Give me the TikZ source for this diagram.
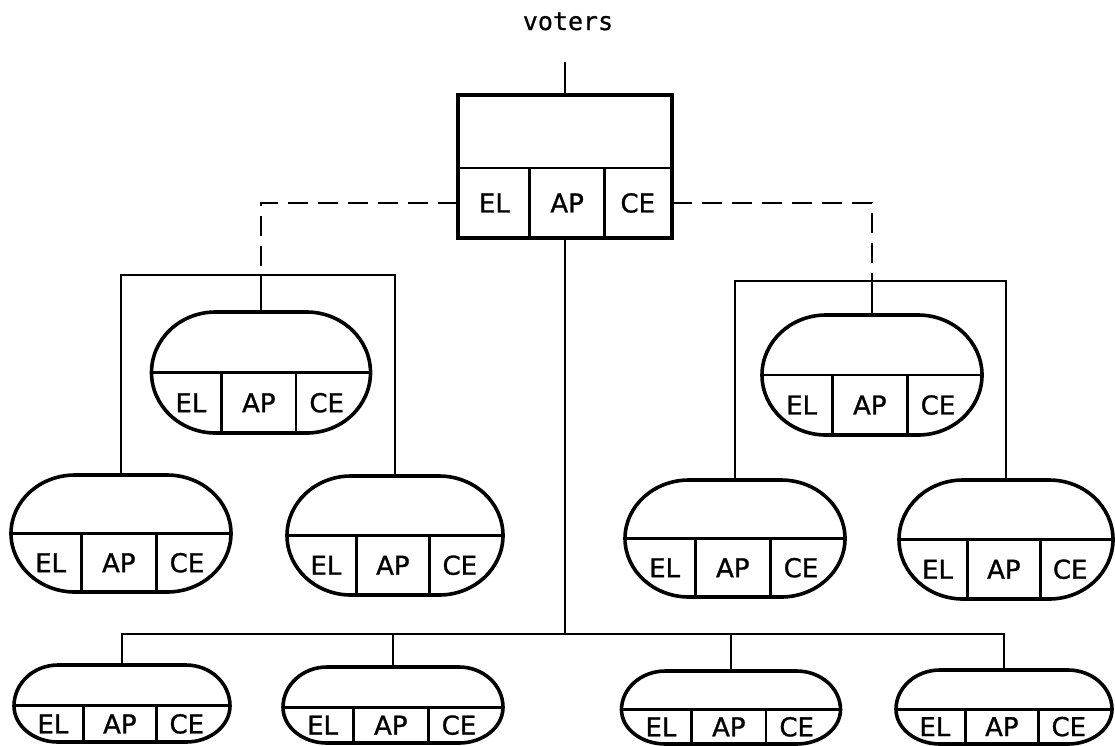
\documentclass[tikz,border=0pt]{standalone}
\usepackage{fontspec}
\newfontfamily\labfont[FakeBold=1]{DejaVu Sans}
\newfontfamily\votfont[FakeBold=0.8]{DejaVu Sans Mono}
\tikzset{
  outline/.style={line width=3.6pt},
  innerline/.style={line width=2.8pt},
  conn/.style={line width=2.3pt},
  dsh/.style={line width=2.3pt, dash pattern=on 20pt off 10pt},
  lab/.style={font=\labfont\fontsize{26}{26}\selectfont, inner sep=0pt},
  votst/.style={font=\votfont\fontsize{25}{25}\selectfont, inner sep=0pt},
  holder/.style={inner sep=0pt, outer sep=0pt}
}
% #1 name, #2 cx, #3 top, #4 width, #5 height, #6 corner x-radius (0 = box), #7 divider fraction, #8 cut1, #9 cut2
\newcommand\vunit[9]{%
  \pgfmathsetmacro\vL{#2-#4/2}%
  \pgfmathsetmacro\vR{#2+#4/2}%
  \pgfmathsetmacro\vTp{#3}%
  \pgfmathsetmacro\vD{#3+#7*#5}%
  \pgfmathsetmacro\vB{#3+#5}%
  \pgfmathsetmacro\vT{(\vD+\vB)/2}%
  \pgfmathsetmacro\vCa{\vL+#8*#4}%
  \pgfmathsetmacro\vCb{\vL+#9*#4}%
  \pgfmathsetmacro\vEa{\vL+\elf*#4}%
  \pgfmathsetmacro\vEb{\vL+\apf*#4}%
  \pgfmathsetmacro\vEc{\vL+\cef*#4}%
  \node[holder, minimum width=#4pt, minimum height=#5pt] (#1) at (#2,{#3+#5/2}) {};
  \ifnum#6=0
    \draw[outline] (\vL,\vTp) rectangle (\vR,\vB);
  \else
    \pgfmathsetmacro\vLa{\vL+#6}%
    \pgfmathsetmacro\vRa{\vR-#6}%
    \pgfmathsetmacro\vLk{\vL+#6*0.4477}%
    \pgfmathsetmacro\vRk{\vR-#6*0.4477}%
    \pgfmathsetmacro\vUk{\vD-(\vD-\vTp)*0.5523}%
    \pgfmathsetmacro\vBk{\vD+(\vB-\vD)*0.5523}%
    \draw[outline] (\vL,\vD) .. controls (\vL,\vUk) and (\vLk,\vTp) .. (\vLa,\vTp)
      -- (\vRa,\vTp) .. controls (\vRk,\vTp) and (\vR,\vUk) .. (\vR,\vD)
      .. controls (\vR,\vBk) and (\vRk,\vB) .. (\vRa,\vB)
      -- (\vLa,\vB) .. controls (\vLk,\vB) and (\vL,\vBk) .. (\vL,\vD) -- cycle;
  \fi
  \draw[innerline] (\vL,\vD) -- (\vR,\vD);
  \draw[innerline] (\vCa,\vD) -- (\vCa,\vB);
  \draw[innerline] (\vCb,\vD) -- (\vCb,\vB);
  \node[lab] (#1-el) at (\vEa,\vT) {EL};
  \node[lab] (#1-ap) at (\vEb,\vT) {AP};
  \node[lab] (#1-ce) at (\vEc,\vT) {CE};
}
\begin{document}
\begin{tikzpicture}[x=1pt,y=-1pt]
\useasboundingbox (0,0) rectangle (1115,745);

% top box
\def\elf{0.17}\def\apf{0.51}\def\cef{0.84}
\vunit{top}{565}{95}{214}{143}{0}{0.51}{0.335}{0.685}

% voters
\node[votst, anchor=base] (voters) at (568,30) {voters};
\coordinate (vin) at (565,62);
\draw[conn] (vin) -- (top.north);

% oval units
\def\elf{0.18}\def\apf{0.49}\def\cef{0.80}
\vunit{l2a}{261}{312}{219}{121}{64}{0.5}{0.32}{0.66}
\vunit{l2b}{872}{315}{220}{120}{64}{0.5}{0.32}{0.66}
\vunit{l3a}{121}{475}{220}{117}{64}{0.5}{0.32}{0.66}
\vunit{l3b}{395}{476}{216}{119}{64}{0.5}{0.32}{0.66}
\vunit{l3c}{735}{480}{220}{117}{64}{0.5}{0.32}{0.66}
\vunit{l3d}{1006}{480}{214}{119}{64}{0.5}{0.32}{0.66}
\vunit{b1}{122}{665}{216}{77}{44}{0.53}{0.32}{0.66}
\vunit{b2}{393}{667}{220}{76}{44}{0.53}{0.32}{0.66}
\vunit{b3}{731}{671}{219}{73}{44}{0.53}{0.32}{0.66}
\vunit{b4}{1004}{670}{216}{74}{44}{0.53}{0.32}{0.66}

% left subtree
\coordinate (lbr) at (261,275);
\draw[dsh] (top.west |- top-el) -| (lbr);
\draw[conn] (lbr) -- (l2a.north);
\draw[conn] (l3a.north) |- (lbr) -| (l3b.north);

% right subtree
\coordinate (rbr) at (872,281);
\draw[dsh] (top.east |- top-ce) -| (rbr);
\draw[conn] (rbr) -- (l2b.north);
\draw[conn] (l3c.north) |- (rbr) -| (l3d.north);

% spine and bottom bus
\coordinate (bus) at (565,634);
\draw[conn] (top.south) -- (bus);
\draw[conn] (b1.north) |- (bus) -| (b4.north);
\draw[conn] (b2.north) -- (b2.north |- bus);
\draw[conn] (b3.north) -- (b3.north |- bus);
\end{tikzpicture}
\end{document}
